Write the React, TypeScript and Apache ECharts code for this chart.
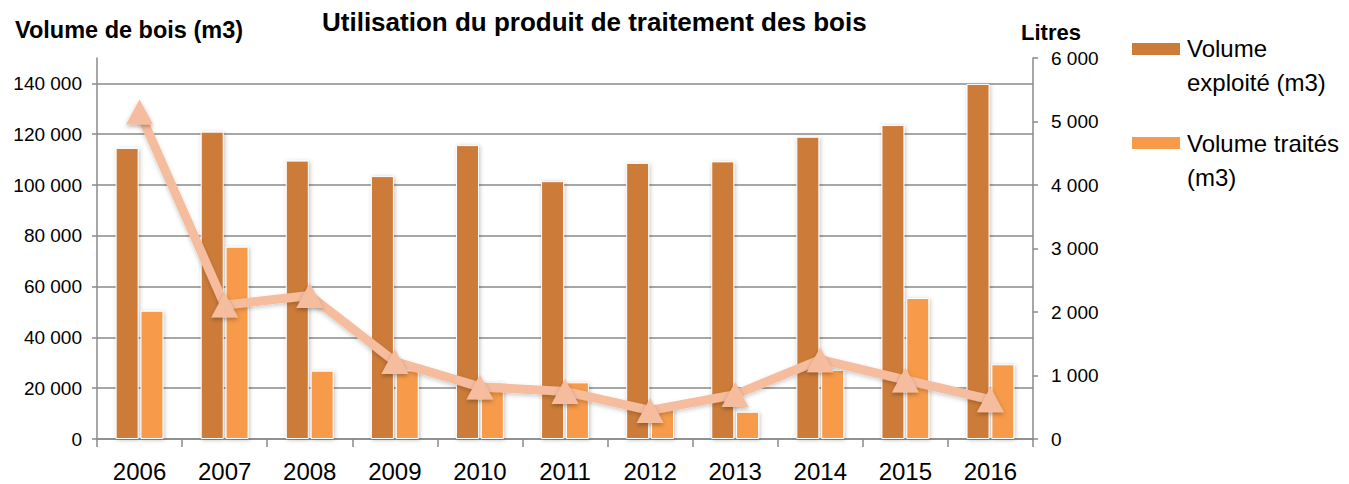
import React, { useEffect, useRef } from "react";
import * as echarts from "echarts";

const categories = ["2006", "2007", "2008", "2009", "2010", "2011", "2012", "2013", "2014", "2015", "2016"];
const volumeExploite = [114600, 121000, 109600, 103500, 115700, 101500, 108700, 109300, 119000, 123600, 139800];
const volumeTraites = [50500, 75700, 26900, 27000, 22200, 22300, 11800, 10700, 27200, 55500, 29400];
const litres = [5150, 2110, 2260, 1220, 820, 750, 450, 700, 1250, 930, 620];
const leftTicks = [0, 20000, 40000, 60000, 80000, 100000, 120000, 140000];

const FONT = "'Liberation Sans', Arial, sans-serif";
const fmt = (v: number) => String(v).replace(/\B(?=(\d{3})+(?!\d))/g, " ");

export default function App() {
  const ref = useRef<HTMLDivElement>(null);
  useEffect(() => {
    if (!ref.current) return;
    const chart = echarts.init(ref.current, undefined, { renderer: "svg" });
    const axisGray = "#8a8a8a";
    chart.setOption({
      animation: false,
      backgroundColor: "#ffffff",
      textStyle: { fontFamily: FONT },
      title: {
        text: "Utilisation du produit de traitement des bois",
        left: 322,
        top: 9,
        padding: 0,
        textStyle: { fontFamily: FONT, fontSize: 26, fontWeight: "bold", color: "#000" },
      },
      legend: { show: false },
      grid: { left: 97, right: 316, top: 58, bottom: 45, containLabel: false },
      xAxis: {
        type: "category",
        data: categories,
        axisLine: { lineStyle: { color: axisGray, width: 1.5 } },
        axisTick: { show: true, alignWithLabel: false, length: 8, lineStyle: { color: axisGray, width: 1.5 } },
        axisLabel: { fontFamily: FONT, fontSize: 24, color: "#000", margin: 20 },
      },
      yAxis: [
        {
          type: "value",
          min: 0,
          max: 150000,
          interval: 20000,
          position: "left",
          axisLine: { show: true, lineStyle: { color: axisGray, width: 1.5 } },
          axisTick: { show: true, length: 5, lineStyle: { color: axisGray, width: 1.5 }, customValues: leftTicks },
          axisLabel: {
            fontFamily: FONT,
            fontSize: 19,
            color: "#000",
            margin: 15,
            customValues: leftTicks,
            formatter: (v: number) => fmt(v),
          },
          splitLine: { show: true, lineStyle: { color: axisGray, width: 1.5 } },
        },
        {
          type: "value",
          min: 0,
          max: 6000,
          interval: 1000,
          position: "right",
          axisLine: { show: true, lineStyle: { color: axisGray, width: 1.5 } },
          axisTick: { show: true, length: 5, lineStyle: { color: axisGray, width: 1.5 } },
          axisLabel: { fontFamily: FONT, fontSize: 19, color: "#000", margin: 18, formatter: (v: number) => fmt(v) },
          splitLine: { show: false },
        },
      ],
      graphic: [
        {
          type: "text",
          left: 15,
          top: 18,
          style: { text: "Volume de bois (m3)", font: `bold 23.5px ${FONT}`, fill: "#000" },
        },
        {
          type: "text",
          left: 1021,
          top: 21,
          style: { text: "Litres", font: `bold 22px ${FONT}`, fill: "#000" },
        },
        { type: "rect", shape: { x: 1132, y: 43, width: 48, height: 12 }, style: { fill: "#CC7B38" } },
        {
          type: "text",
          x: 1187,
          y: 31,
          style: { text: "Volume\nexploité (m3)", font: `24px ${FONT}`, fill: "#000", lineHeight: 34, verticalAlign: "top" },
        },
        { type: "rect", shape: { x: 1132, y: 137, width: 48, height: 12 }, style: { fill: "#F79A4A" } },
        {
          type: "text",
          x: 1187,
          y: 126,
          style: { text: "Volume traités\n(m3)", font: `24px ${FONT}`, fill: "#000", lineHeight: 34, verticalAlign: "top" },
        },
      ],
      series: [
        {
          name: "Volume exploité (m3)",
          type: "bar",
          yAxisIndex: 0,
          data: volumeExploite,
          barWidth: 23,
          barGap: "8%",
          itemStyle: {
            color: "#CC7B38",
            borderColor: "#ffffff",
            borderWidth: 1,
            shadowBlur: 4,
            shadowColor: "rgba(0,0,0,0.25)",
            shadowOffsetX: 1,
            shadowOffsetY: 1,
          },
        },
        {
          name: "Volume traités (m3)",
          type: "bar",
          yAxisIndex: 0,
          data: volumeTraites,
          barWidth: 23,
          itemStyle: {
            color: "#F79A4A",
            borderColor: "#ffffff",
            borderWidth: 1,
            shadowBlur: 4,
            shadowColor: "rgba(0,0,0,0.25)",
            shadowOffsetX: 1,
            shadowOffsetY: 1,
          },
        },
        {
          name: "Litres",
          type: "line",
          yAxisIndex: 1,
          data: litres,
          symbol: "triangle",
          symbolSize: [27, 25],
          lineStyle: { color: "#F5BC9E", width: 9, shadowBlur: 4, shadowColor: "rgba(0,0,0,0.2)", shadowOffsetY: 2 },
          itemStyle: { color: "#F5BC9E", shadowBlur: 4, shadowColor: "rgba(0,0,0,0.3)", shadowOffsetY: 2 },
          z: 5,
        },
      ],
    });
    return () => chart.dispose();
  }, []);
  return <div ref={ref} style={{ position: "fixed", left: 0, top: 0, width: 1349, height: 484 }} />;
}
